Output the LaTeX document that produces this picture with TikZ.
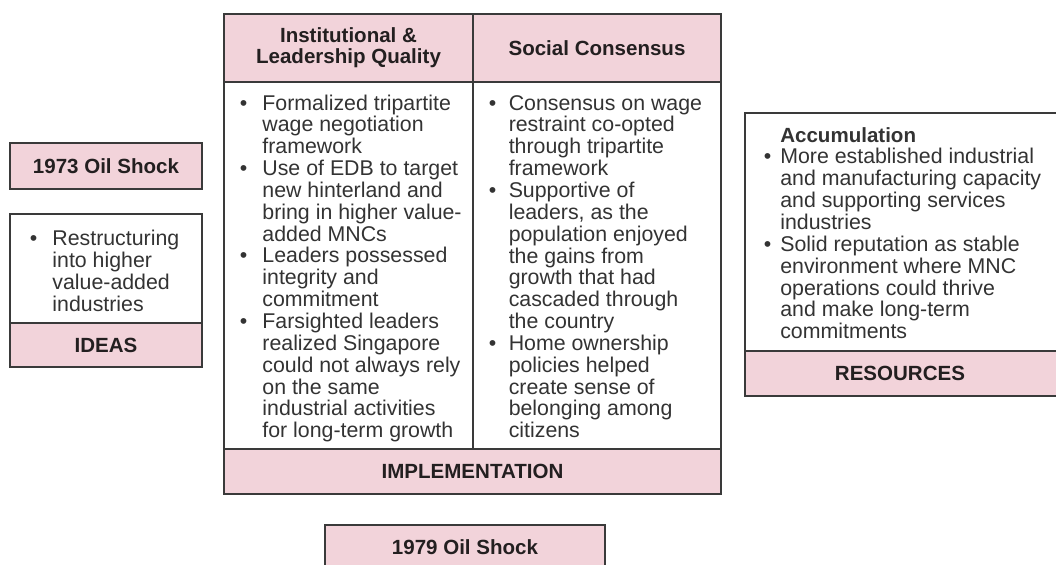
\documentclass[tikz,border=0pt]{standalone}
\usepackage{fontspec}
\setmainfont{Liberation Sans}
\definecolor{pinkfill}{HTML}{F2D3DA}
\definecolor{edgecol}{HTML}{3A3A3A}
\definecolor{ink}{HTML}{231F20}
\definecolor{bodyink}{HTML}{333333}
\newcommand\bodyfnt{\fontsize{16}{16}\selectfont}
\newcommand\headfnt{\fontsize{15.4}{15.8}\selectfont\bfseries}
\newcommand\bulx[1]{\makebox[#1][l]{\textbullet}}
\newcommand\indx[1]{\hspace*{#1}}
\begin{document}
\begin{tikzpicture}[x=0.75pt,y=-0.75pt,
  band/.style={draw=edgecol, fill=pinkfill, line width=1.1pt},
  plainbox/.style={draw=edgecol, fill=white, line width=1.1pt},
  head/.style={font=\headfnt, text=ink, align=center, inner sep=0pt},
  bodytxt/.style={font=\bodyfnt, text=bodyink, inner sep=0pt, anchor=base west}]
\useasboundingbox (0,0) rectangle (1056,564);
\fill[white] (0,0) rectangle (1056,564);

% ---- left: 1973 oil shock and ideas
\path[band] (10,143) rectangle (202,189);
\node[head] (shock73) at (106,166) {1973 Oil Shock};
\path[plainbox] (10,214) rectangle (202,323);
\path[band] (10,323) rectangle (202,367);
\node[bodytxt] (ideasbody) at (29.5,245.5) {\begin{tabular}[t]{@{}l@{}}
\bulx{17pt}Restructuring\\
\indx{17pt}into higher\\
\indx{17pt}value-added\\
\indx{17pt}industries
\end{tabular}};
\node[head] (ideas) at (106,345) {IDEAS};

% ---- centre: implementation table
\path[band] (224,14) rectangle (721,82);
\path[plainbox] (224,82) rectangle (721,449);
\path[band] (224,449) rectangle (721,494);
\draw[edgecol, line width=1.1pt] (473,14) -- (473,449);
\node[head] (insthead) at (348.5,48) {Institutional \&\\Leadership Quality};
\node[head] (sochead) at (597,48) {Social Consensus};
\node[bodytxt] (instbody) at (239.5,110) {\begin{tabular}[t]{@{}l@{}}
\bulx{17pt}Formalized tripartite\\
\indx{17pt}wage negotiation\\
\indx{17pt}framework\\
\bulx{17pt}Use of EDB to target\\
\indx{17pt}new hinterland and\\
\indx{17pt}bring in higher value-\\
\indx{17pt}added MNCs\\
\bulx{17pt}Leaders possessed\\
\indx{17pt}integrity and\\
\indx{17pt}commitment\\
\bulx{17pt}Farsighted leaders\\
\indx{17pt}realized Singapore\\
\indx{17pt}could not always rely\\
\indx{17pt}on the same\\
\indx{17pt}industrial activities\\
\indx{17pt}for long-term growth
\end{tabular}};
\node[bodytxt] (socbody) at (488.5,110) {\begin{tabular}[t]{@{}l@{}}
\bulx{15pt}Consensus on wage\\
\indx{15pt}restraint co-opted\\
\indx{15pt}through tripartite\\
\indx{15pt}framework\\
\bulx{15pt}Supportive of\\
\indx{15pt}leaders, as the\\
\indx{15pt}population enjoyed\\
\indx{15pt}the gains from\\
\indx{15pt}growth that had\\
\indx{15pt}cascaded through\\
\indx{15pt}the country\\
\bulx{15pt}Home ownership\\
\indx{15pt}policies helped\\
\indx{15pt}create sense of\\
\indx{15pt}belonging among\\
\indx{15pt}citizens
\end{tabular}};
\node[head] (impl) at (472.5,471.5) {IMPLEMENTATION};

% ---- right: resources
\path[plainbox] (745,113) rectangle (1058,351);
\path[band] (745,351) rectangle (1058,396);
\node[bodytxt] (resbody) at (763.5,142) {\begin{tabular}[t]{@{}l@{}}
\indx{12.4pt}{\headfnt Accumulation}\\
\bulx{12.4pt}More established industrial\\
\indx{12.4pt}and manufacturing capacity\\
\indx{12.4pt}and supporting services\\
\indx{12.4pt}industries\\
\bulx{12.4pt}Solid reputation as stable\\
\indx{12.4pt}environment where MNC\\
\indx{12.4pt}operations could thrive\\
\indx{12.4pt}and make long-term\\
\indx{12.4pt}commitments
\end{tabular}};
\node[head] (resources) at (900,373.5) {RESOURCES};

% ---- bottom: 1979 oil shock
\path[band] (325,525) rectangle (605,571);
\node[head] (shock79) at (465,547) {1979 Oil Shock};
\end{tikzpicture}
\end{document}
